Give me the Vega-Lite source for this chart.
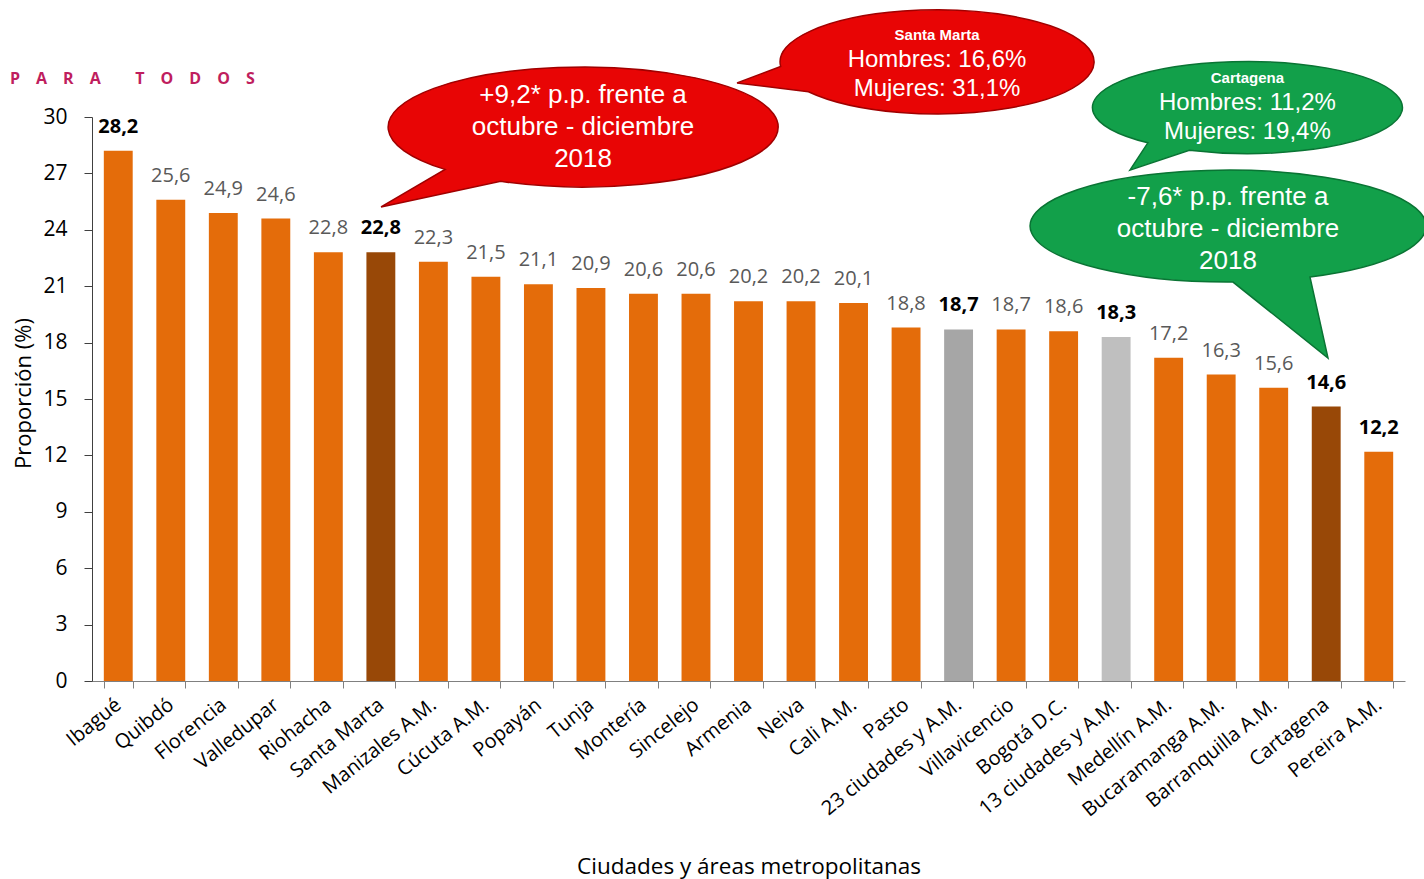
{
  "$schema": "https://vega.github.io/schema/vega-lite/v6.json",
  "width": 1313,
  "height": 564,
  "autosize": {"type": "none"},
  "padding": {"left": 92, "top": 117, "right": 19, "bottom": 198},
  "title": {
    "text": "P\u2003A\u2003R\u2003A\u2003\u2003\u2009T\u2003O\u2003D\u2003O\u2003S",
    "anchor": "start",
    "frame": "group",
    "dx": -82,
    "offset": -80,
    "fontSize": 16,
    "fontWeight": "bold",
    "color": "#BF1E5E",
    "font": "Open Sans"
  },
  "datasets": {
    "barras": [
      {"ciudad": "Ibagué", "valor": 28.2, "grupo": "ciudad", "negrita": true},
      {"ciudad": "Quibdó", "valor": 25.6, "grupo": "ciudad", "negrita": false},
      {"ciudad": "Florencia", "valor": 24.9, "grupo": "ciudad", "negrita": false},
      {"ciudad": "Valledupar", "valor": 24.6, "grupo": "ciudad", "negrita": false},
      {"ciudad": "Riohacha", "valor": 22.8, "grupo": "ciudad", "negrita": false},
      {"ciudad": "Santa Marta", "valor": 22.8, "grupo": "resaltada", "negrita": true},
      {"ciudad": "Manizales A.M.", "valor": 22.3, "grupo": "ciudad", "negrita": false},
      {"ciudad": "Cúcuta A.M.", "valor": 21.5, "grupo": "ciudad", "negrita": false},
      {"ciudad": "Popayán", "valor": 21.1, "grupo": "ciudad", "negrita": false},
      {"ciudad": "Tunja", "valor": 20.9, "grupo": "ciudad", "negrita": false},
      {"ciudad": "Montería", "valor": 20.6, "grupo": "ciudad", "negrita": false},
      {"ciudad": "Sincelejo", "valor": 20.6, "grupo": "ciudad", "negrita": false},
      {"ciudad": "Armenia", "valor": 20.2, "grupo": "ciudad", "negrita": false},
      {"ciudad": "Neiva", "valor": 20.2, "grupo": "ciudad", "negrita": false},
      {"ciudad": "Cali A.M.", "valor": 20.1, "grupo": "ciudad", "negrita": false},
      {"ciudad": "Pasto", "valor": 18.8, "grupo": "ciudad", "negrita": false},
      {"ciudad": "23 ciudades y A.M.", "valor": 18.7, "grupo": "total23", "negrita": true},
      {"ciudad": "Villavicencio", "valor": 18.7, "grupo": "ciudad", "negrita": false},
      {"ciudad": "Bogotá D.C.", "valor": 18.6, "grupo": "ciudad", "negrita": false},
      {"ciudad": "13 ciudades y A.M.", "valor": 18.3, "grupo": "total13", "negrita": true},
      {"ciudad": "Medellín A.M.", "valor": 17.2, "grupo": "ciudad", "negrita": false},
      {"ciudad": "Bucaramanga A.M.", "valor": 16.3, "grupo": "ciudad", "negrita": false},
      {"ciudad": "Barranquilla A.M.", "valor": 15.6, "grupo": "ciudad", "negrita": false},
      {"ciudad": "Cartagena", "valor": 14.6, "grupo": "resaltada", "negrita": true},
      {"ciudad": "Pereira A.M.", "valor": 12.2, "grupo": "ciudad", "negrita": true}
    ],
    "globos": [
      {"globo": "b1", "xpos": 9.35, "valor": 29.47},
      {"globo": "b2", "xpos": 16.09, "valor": 32.93},
      {"globo": "b3", "xpos": 22.0, "valor": 30.5},
      {"globo": "b4", "xpos": 21.63, "valor": 24.2}
    ],
    "textos": [
      {"estilo": "grande", "xpos": 9.35, "valor": 29.47, "texto": "+9,2* p.p. frente a\noctubre - diciembre\n2018"},
      {"estilo": "encabezado", "xpos": 16.09, "valor": 34.36, "texto": "Santa Marta"},
      {"estilo": "mediano", "xpos": 16.09, "valor": 32.26, "texto": "Hombres: 16,6%\nMujeres: 31,1%"},
      {"estilo": "encabezado", "xpos": 22.0, "valor": 32.07, "texto": "Cartagena"},
      {"estilo": "mediano", "xpos": 22.0, "valor": 29.97, "texto": "Hombres: 11,2%\nMujeres: 19,4%"},
      {"estilo": "grande", "xpos": 21.63, "valor": 24.04, "texto": "-7,6* p.p. frente a\noctubre - diciembre\n2018"}
    ]
  },
  "encoding": {
    "y": {
      "field": "valor",
      "type": "quantitative",
      "scale": {"domain": [0, 30], "nice": false},
      "axis": {
        "title": "Proporción (%)",
        "values": [0, 3, 6, 9, 12, 15, 18, 21, 24, 27, 30],
        "grid": false,
        "tickSize": 8,
        "tickColor": "#404040",
        "domainColor": "#404040",
        "labelPadding": 17,
        "labelFontSize": 21,
        "labelFont": "Open Sans",
        "labelColor": "#000000",
        "titleFont": "Open Sans",
        "titleFontSize": 22,
        "titleFontWeight": "normal",
        "titleColor": "#000000",
        "titleX": -69,
        "titleY": 276,
        "titleBaseline": "middle"
      }
    }
  },
  "layer": [
    {
      "data": {"name": "barras"},
      "encoding": {
        "x": {
          "field": "ciudad",
          "type": "nominal",
          "sort": null,
          "scale": {"paddingInner": 0.45, "paddingOuter": 0.225},
          "axis": {
            "title": "Ciudades y áreas metropolitanas",
            "labelAngle": -39,
            "labelAlign": "right",
            "labelBaseline": "middle",
            "labelPadding": 14,
            "labelFontSize": 20,
            "labelFont": "Open Sans",
            "labelColor": "#000000",
            "labelLimit": 400,
            "labelOverlap": false,
            "tickBand": "extent",
            "tickSize": 7,
            "tickColor": "#808080",
            "domainColor": "#808080",
            "titleFont": "Open Sans",
            "titleFontSize": 22.5,
            "titleFontWeight": "normal",
            "titleColor": "#000000",
            "titleY": 185,
            "titleBaseline": "middle"
          }
        }
      },
      "layer": [
        {
          "mark": {"type": "bar"},
          "encoding": {
            "color": {
              "field": "grupo",
              "type": "nominal",
              "scale": {
                "domain": ["ciudad", "resaltada", "total23", "total13"],
                "range": ["#E46C0A", "#984807", "#A6A6A6", "#BFBFBF"]
              },
              "legend": null
            }
          }
        },
        {
          "mark": {"type": "text", "baseline": "alphabetic", "dy": -18, "fontSize": 20, "font": "Open Sans", "color": "#595959"},
          "encoding": {
            "text": {"condition": {"test": "!datum.negrita", "field": "valor", "type": "quantitative", "format": ".1f"}, "value": ""}
          }
        },
        {
          "mark": {"type": "text", "baseline": "alphabetic", "dy": -18, "fontSize": 20, "font": "Open Sans", "fontWeight": "bold", "color": "#000000"},
          "encoding": {
            "text": {"condition": {"test": "datum.negrita", "field": "valor", "type": "quantitative", "format": ".1f"}, "value": ""}
          }
        }
      ]
    },
    {
      "encoding": {
        "x": {"field": "xpos", "type": "quantitative", "scale": {"domain": [0, 25], "nice": false, "zero": false}, "axis": null}
      },
      "layer": [
        {
          "data": {"name": "globos"},
          "transform": [{"filter": "datum.globo == 'b1'"}],
          "mark": {"type": "point", "filled": true, "opacity": 1, "size": 4, "shape": "M-202,80 L-138,42.4 A195,60 0 1 1 -82.4,54.4 Z", "fill": "#E80505", "stroke": "#A00000", "strokeWidth": 1.5}
        },
        {
          "data": {"name": "globos"},
          "transform": [{"filter": "datum.globo == 'b2'"}],
          "mark": {"type": "point", "filled": true, "opacity": 1, "size": 4, "shape": "M-200,21 L-156.4,4.5 A157,52 0 1 1 -128.6,29.8 Z", "fill": "#E80505", "stroke": "#A00000", "strokeWidth": 1.5}
        },
        {
          "data": {"name": "globos"},
          "transform": [{"filter": "datum.globo == 'b3'"}],
          "mark": {"type": "point", "filled": true, "opacity": 1, "size": 4, "shape": "M-117.5,62.5 L-99.6,35.2 A155,46 0 1 1 -58.1,42.6 Z", "fill": "#12A04A", "stroke": "#0A7434", "strokeWidth": 1.5}
        },
        {
          "data": {"name": "globos"},
          "transform": [{"filter": "datum.globo == 'b4'"}],
          "mark": {"type": "point", "filled": true, "opacity": 1, "size": 4, "shape": "M100,132 L82,51 A198,56 0 1 0 5,56 Z", "fill": "#12A04A", "stroke": "#0A7434", "strokeWidth": 1.5}
        },
        {
          "data": {"name": "textos"},
          "transform": [{"filter": "datum.estilo == 'encabezado'"}],
          "mark": {"type": "text", "align": "center", "baseline": "middle", "font": "Liberation Sans", "fontSize": 15, "fontWeight": "bold", "color": "#FFFFFF"},
          "encoding": {"text": {"field": "texto", "type": "nominal"}}
        },
        {
          "data": {"name": "textos"},
          "transform": [{"filter": "datum.estilo == 'mediano'"}],
          "mark": {"type": "text", "align": "center", "baseline": "middle", "dy": -14.5, "font": "Liberation Sans", "fontSize": 24, "lineHeight": 29, "lineBreak": "\n", "color": "#FFFFFF"},
          "encoding": {"text": {"field": "texto", "type": "nominal"}}
        },
        {
          "data": {"name": "textos"},
          "transform": [{"filter": "datum.estilo == 'grande'"}],
          "mark": {"type": "text", "align": "center", "baseline": "middle", "dy": -32, "font": "Liberation Sans", "fontSize": 26, "lineHeight": 32, "lineBreak": "\n", "color": "#FFFFFF"},
          "encoding": {"text": {"field": "texto", "type": "nominal"}}
        }
      ]
    }
  ],
  "resolve": {"scale": {"x": "independent"}, "axis": {"x": "independent"}},
  "config": {
    "view": {"stroke": null},
    "font": "Open Sans",
    "locale": {"number": {"decimal": ",", "thousands": ".", "grouping": [3], "currency": ["$", ""]}}
  }
}
